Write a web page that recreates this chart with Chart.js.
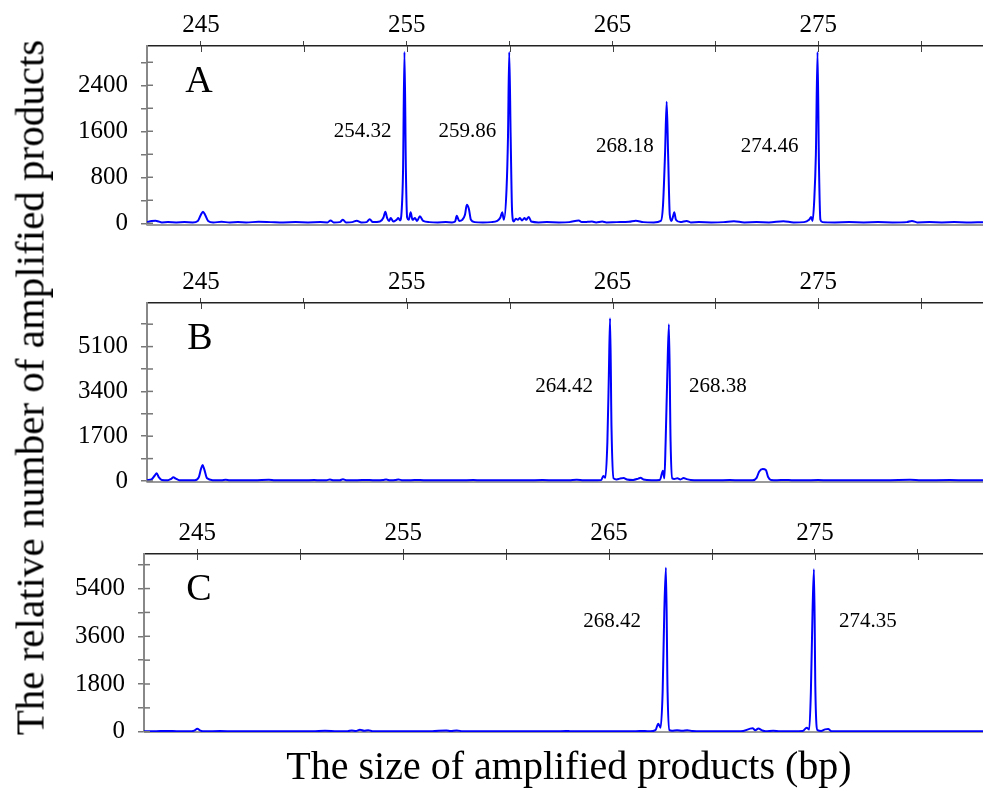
<!DOCTYPE html>
<html>
<head>
<meta charset="utf-8">
<script src="https://cdn.jsdelivr.net/npm/chart.js@4.4.1/dist/chart.umd.min.js"></script>
<style>
  html, body { margin: 0; padding: 0; background: #fff; }
  body { width: 983px; height: 788px; position: relative; overflow: hidden; font-family: 'Liberation Serif', 'Times New Roman', serif; }
  canvas { position: absolute; left: 0; }
  #ytitle { position: absolute; width: 720px; height: 41px; line-height: 41px; left: -330px; top: 367px;
            font-size: 41px; text-align: center; white-space: nowrap; transform: rotate(-90deg); color: #000; }
  #xtitle { position: absolute; width: 700px; height: 40px; line-height: 40px; left: 219px; top: 746px;
            font-size: 40px; text-align: center; white-space: nowrap; color: #000; }
</style>
</head>
<body>
<canvas id="cA" width="983" height="255" style="top:0px"></canvas>
<canvas id="cB" width="983" height="254" style="top:258px"></canvas>
<canvas id="cC" width="983" height="252" style="top:510px"></canvas>
<div id="ytitle">The relative number of amplified products</div>
<div id="xtitle">The size of amplified products (bp)</div>
<script>
// ---- shared axis ticks (bp) ----
const xTicks = [245, 250, 255, 260, 265, 270, 275, 280];
const xTickLabels = [245, 255, 265, 275];

// ---- panel A ----
const sizeA = [
  242.38, 242.6, 242.8, 242.95, 243.1, 243.4, 243.8, 244.2, 244.6, 244.85,
  245.0, 245.1, 245.2, 245.35, 245.6, 246.0, 246.4, 246.8, 247.2, 247.8,
  248.4, 249.0, 249.6, 250.2, 250.8, 251.15, 251.3, 251.45, 251.75, 251.9,
  252.05, 252.35, 252.57, 252.8, 253.05, 253.2, 253.35, 253.7, 253.87, 253.96,
  254.05, 254.14, 254.22, 254.35, 254.5, 254.59, 254.68, 254.75, 254.82, 254.89,
  254.96, 255.02, 255.1, 255.19, 255.28, 255.4, 255.5, 255.64, 255.8, 256.1,
  256.5, 256.9, 257.2, 257.35, 257.43, 257.55, 257.7, 257.83, 257.92, 258.02,
  258.12, 258.3, 258.7, 259.1, 259.4, 259.55, 259.64, 259.72, 259.85, 259.92,
  259.98, 260.05, 260.12, 260.2, 260.3, 260.4, 260.5, 260.6, 260.72, 260.8,
  260.93, 261.05, 261.4, 261.8, 262.4, 262.9, 263.36, 263.5, 263.8, 264.0,
  264.2, 264.5, 264.7, 265.2, 265.8, 266.13, 266.5, 267.0, 267.35, 267.45,
  267.55, 267.63, 267.7, 267.78, 267.86, 267.94, 268.0, 268.08, 268.3, 268.6,
  268.8, 269.2, 269.8, 270.4, 270.9, 271.4, 272.0, 272.6, 273.3, 273.8,
  274.3, 274.55, 274.65, 274.72, 274.8, 274.88, 274.96, 275.03, 275.1, 275.2,
  275.8, 276.5, 277.2, 277.9, 278.6, 279.3, 279.55, 279.8, 280.4, 281.0,
  281.6, 282.2, 283.0
];
const signalA = [
  20, 40, 45, 30, 15, 20, 15, 20, 15, 40,
  150, 200, 150, 40, 15, 25, 15, 20, 15, 25,
  20, 15, 20, 15, 20, 15, 50, 15, 20, 60,
  15, 20, 45, 15, 20, 70, 20, 30, 100, 200,
  90, 40, 90, 30, 60, 90, 50, 200, 900, 2980,
  900, 100, 60, 190, 60, 90, 40, 120, 40, 20,
  15, 20, 15, 30, 130, 40, 60, 150, 320, 250,
  60, 20, 15, 20, 40, 100, 190, 60, 600, 1500,
  2980, 1500, 200, 30, 80, 60, 90, 50, 90, 60,
  110, 30, 15, 20, 15, 20, 50, 20, 25, 30,
  15, 30, 15, 20, 25, 45, 20, 15, 40, 300,
  1200, 2115, 1200, 150, 40, 120, 190, 60, 20, 40,
  15, 20, 15, 20, 35, 15, 20, 15, 35, 15,
  20, 60, 110, 40, 400, 1200, 2980, 1000, 60, 20,
  15, 20, 15, 20, 15, 20, 40, 15, 20, 15,
  20, 15, 20
];
const yTicksA = [0, 400, 800, 1200, 1600, 2000, 2400, 2800];
const yLabelsA = [0, 800, 1600, 2400];
const peakTextA = ['254.32', '259.86', '268.18', '274.46'];
const peakSizeA = [254.89, 259.98, 267.63, 274.96];
const peakLevelA = [1605, 1605, 1332, 1332];

// ---- panel B ----
const sizeB = [
  242.38, 242.6, 242.75, 242.85, 242.95, 243.1, 243.4, 243.55, 243.66, 243.78,
  243.95, 244.3, 244.7, 244.9, 245.0, 245.08, 245.16, 245.3, 245.6, 246.0,
  246.2, 246.4, 247.0, 247.6, 248.3, 248.6, 249.3, 250.0, 250.5, 250.8,
  251.1, 251.27, 251.45, 251.75, 251.9, 252.1, 252.6, 253.2, 253.5, 253.85,
  254.0, 254.2, 254.45, 254.6, 254.8, 255.2, 255.65, 256.0, 256.8, 257.6,
  258.24, 258.6, 259.4, 260.3, 261.0, 261.6, 262.2, 262.9, 263.26, 263.6,
  264.0, 264.45, 264.55, 264.65, 264.75, 264.82, 264.88, 264.95, 265.05, 265.2,
  265.35, 265.54, 265.7, 266.0, 266.25, 266.36, 266.5, 266.9, 267.3, 267.45,
  267.52, 267.58, 267.66, 267.74, 267.82, 267.9, 268.0, 268.15, 268.3, 268.45,
  268.6, 268.8, 269.3, 270.0, 270.7, 271.2, 271.8, 272.0, 272.12, 272.3,
  272.45, 272.56, 272.7, 273.0, 273.37, 273.7, 274.3, 274.99, 275.5, 276.5,
  277.5, 278.5, 279.46, 280.0, 281.4, 282.2, 283.0
];
const signalB = [
  30, 60, 200, 290, 150, 40, 30, 80, 140, 90,
  30, 25, 30, 150, 450, 606, 450, 100, 30, 25,
  45, 25, 30, 25, 45, 25, 30, 25, 35, 25,
  30, 55, 25, 30, 65, 25, 30, 40, 25, 35,
  55, 25, 35, 60, 25, 30, 40, 25, 30, 25,
  40, 25, 30, 25, 30, 35, 25, 30, 45, 25,
  30, 40, 190, 120, 1500, 4000, 6174, 2000, 100, 60,
  90, 110, 60, 40, 90, 120, 60, 30, 40, 390,
  100, 1500, 4000, 5946, 1500, 100, 80, 100, 60, 110,
  70, 40, 30, 25, 40, 25, 30, 120, 350, 455,
  420, 150, 40, 30, 40, 30, 25, 40, 25, 30,
  25, 30, 45, 30, 35, 25, 30
];
const yTicksB = [0, 850, 1700, 2550, 3400, 4250, 5100, 5950];
const yLabelsB = [0, 1700, 3400, 5100];
const peakTextB = ['264.42', '268.38'];
const peakSizeB = [264.88, 267.74];
const peakLevelB = [3600, 3600];

// ---- panel C ----
const sizeC = [
  242.41, 243.0, 243.5, 244.0, 244.6, 244.85, 245.0, 245.15, 245.4, 246.1,
  246.8, 247.8, 248.8, 249.8, 250.6, 251.2, 251.8, 252.3, 252.5, 252.7,
  252.9, 253.1, 253.3, 253.5, 253.8, 254.5, 255.5, 256.4, 257.1, 257.3,
  257.6, 257.9, 258.8, 260.0, 261.2, 262.4, 262.9, 263.1, 263.6, 264.6,
  265.6, 266.3, 266.74, 267.0, 267.25, 267.39, 267.5, 267.6, 267.68, 267.76,
  267.84, 267.93, 268.05, 268.3, 268.55, 268.8, 269.05, 269.3, 269.8, 270.6,
  271.4, 271.97, 272.1, 272.25, 272.41, 272.6, 272.97, 273.3, 273.9, 274.4,
  274.6, 274.72, 274.8, 274.88, 274.95, 275.02, 275.12, 275.3, 275.49, 275.64,
  275.8, 276.5, 277.5, 278.5, 279.5, 280.5, 281.5, 282.5, 283.16
];
const signalC = [
  15, 20, 30, 20, 15, 40, 110, 40, 15, 25,
  15, 20, 15, 20, 15, 40, 15, 20, 50, 30,
  75, 40, 60, 20, 15, 20, 15, 20, 50, 25,
  50, 15, 20, 15, 20, 15, 30, 20, 15, 20,
  15, 20, 30, 15, 60, 300, 150, 1500, 4500, 6187,
  1500, 60, 40, 55, 40, 60, 25, 20, 15, 20,
  15, 130, 60, 120, 60, 15, 35, 15, 20, 30,
  150, 80, 1500, 4500, 6127, 1500, 60, 30, 90, 100,
  20, 15, 20, 15, 20, 15, 20, 15, 20
];
const yTicksC = [0, 900, 1800, 2700, 3600, 4500, 5400, 6300];
const yLabelsC = [0, 1800, 3600, 5400];
const peakTextC = ['268.42', '274.35'];
const peakSizeC = [267.76, 274.95];
const peakLevelC = [4158, 4158];

Chart.defaults.font.family = "'Liberation Serif', 'Times New Roman', serif";
Chart.defaults.color = '#000';

function decor(p) {
  return {
    id: 'decor' + p.letter,
    beforeDatasetsDraw(chart) {
      const { ctx, chartArea: a } = chart;
      ctx.save();
      ctx.strokeStyle = '#9a9a9a';
      ctx.lineWidth = 2;
      ctx.beginPath();
      ctx.moveTo(a.left, a.bottom);
      ctx.lineTo(a.right, a.bottom);
      ctx.stroke();
      ctx.restore();
    },
    afterDraw(chart) {
      const { ctx, chartArea: a, scales } = chart;
      const x = scales.x, y = scales.y;
      ctx.save();
      ctx.strokeStyle = '#444';
      ctx.lineWidth = 1;
      x.ticks.forEach(t => {
        const px = Math.round(x.getPixelForValue(t.value)) + 0.5;
        ctx.beginPath(); ctx.moveTo(px, a.top); ctx.lineTo(px, a.top + 6); ctx.stroke();
      });
      ctx.strokeStyle = '#777';
      ctx.lineWidth = 1.5;
      y.ticks.forEach(t => {
        const py = y.getPixelForValue(t.value);
        ctx.beginPath(); ctx.moveTo(a.left, py); ctx.lineTo(a.left + 6, py); ctx.stroke();
      });
      ctx.fillStyle = '#000';
      ctx.font = "38px 'Liberation Serif'";
      ctx.textAlign = 'center';
      ctx.textBaseline = 'alphabetic';
      ctx.fillText(p.letter, a.left + p.letterDx, a.top + 46);
      ctx.font = "21px 'Liberation Serif'";
      ctx.textBaseline = 'middle';
      p.texts.forEach((s, i) => {
        const px = x.getPixelForValue(p.sizes[i]);
        const py = y.getPixelForValue(p.levels[i]);
        const right = p.sides[i] === 'right';
        ctx.textAlign = right ? 'left' : 'right';
        ctx.fillText(s, right ? px + p.gaps[i] : px - p.gaps[i], py);
      });
      ctx.restore();
    }
  };
}

function makePanel(id, sizes, signals, p) {
  new Chart(document.getElementById(id), {
    type: 'line',
    data: {
      datasets: [{
        data: sizes.map((s, i) => ({ x: s, y: signals[i] })),
        borderColor: '#0000ff',
        borderWidth: 2,
        pointRadius: 0,
        fill: false,
        cubicInterpolationMode: 'monotone'
      }]
    },
    options: {
      responsive: false,
      animation: false,
      events: [],
      layout: { padding: { left: 0, right: 0, top: 0, bottom: p.padBottom } },
      plugins: { legend: { display: false }, tooltip: { enabled: false } },
      scales: {
        x: {
          type: 'linear', position: 'top', min: p.xMin, max: p.xMax,
          afterFit: s => { s.height = p.xAxisH; },
          afterBuildTicks: s => { s.ticks = xTicks.map(v => ({ value: v })); },
          ticks: { autoSkip: false, maxRotation: 0, padding: 1, color: '#000', font: { size: 25 },
                   callback: v => xTickLabels.includes(v) ? String(v) : '' },
          grid: { drawOnChartArea: false, drawTicks: true, tickLength: 5, color: '#444', lineWidth: 1 },
          border: { display: true, color: '#222', width: 1.5 }
        },
        y: {
          type: 'linear', min: p.yMin, max: p.yMax,
          afterFit: s => { s.width = p.yAxisW; },
          afterBuildTicks: s => { s.ticks = p.yTicks.map(v => ({ value: v })); },
          ticks: { autoSkip: false, padding: 13, color: '#000', font: { size: 25 },
                   callback: v => p.yLabels.includes(v) ? String(v) : '' },
          grid: { drawOnChartArea: false, drawTicks: true, tickLength: 6, color: '#777', lineWidth: 1.5 },
          border: { display: true, color: '#888', width: 2 }
        }
      }
    },
    plugins: [decor(p)]
  });
}

makePanel('cA', sizeA, signalA, {
  letter: 'A', letterDx: 52, xMin: 242.38, xMax: 283.0, yMin: -30, yMax: 3083,
  xAxisH: 46, yAxisW: 147, padBottom: 30, yTicks: yTicksA, yLabels: yLabelsA,
  texts: peakTextA, sizes: peakSizeA, levels: peakLevelA,
  sides: ['left', 'left', 'left', 'left'], gaps: [13, 13, 13, 19]
});
makePanel('cB', sizeB, signalB, {
  letter: 'B', letterDx: 53, xMin: 242.38, xMax: 283.0, yMin: -38, yMax: 6754,
  xAxisH: 45, yAxisW: 147, padBottom: 30, yTicks: yTicksB, yLabels: yLabelsB,
  texts: peakTextB, sizes: peakSizeB, levels: peakLevelB,
  sides: ['left', 'right'], gaps: [17, 20]
});
makePanel('cC', sizeC, signalC, {
  letter: 'C', letterDx: 55, xMin: 242.41, xMax: 283.16, yMin: -10, yMax: 6703,
  xAxisH: 44, yAxisW: 144, padBottom: 30, yTicks: yTicksC, yLabels: yLabelsC,
  texts: peakTextC, sizes: peakSizeC, levels: peakLevelC,
  sides: ['left', 'right'], gaps: [25, 25]
});
</script>
</body>
</html>
